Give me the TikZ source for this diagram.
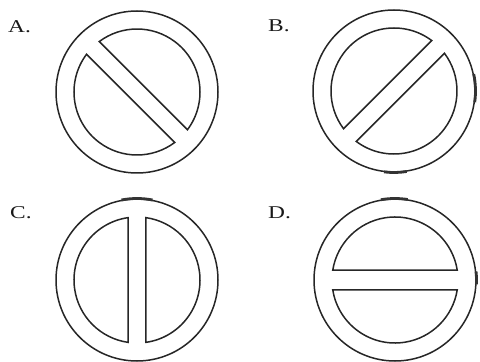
\documentclass[tikz,border=0pt]{standalone}
\usepackage{fontspec}
\setmainfont{Liberation Serif}
\tikzset{
  ring/.style={draw=black!85, line width=1.5pt},
  blob/.style={draw=black!80, line width=2.8pt},
  lbl/.style={anchor=base west, inner sep=0pt, font=\fontsize{18}{18}\selectfont, text=black!90}
}
\newcommand{\ringsign}[3]{%
  \draw[ring] (#1) circle[radius=81];
  \pgfmathsetmacro{\halfang}{acos(#3/63)}
  \foreach \n in {#2, #2+180}{
    \draw[ring] ([shift={(\n-\halfang:63)}]#1) arc[start angle=\n-\halfang, end angle=\n+\halfang, radius=63] -- cycle;
  }
}
\begin{document}
\begin{tikzpicture}[x=1pt,y=1pt]
\useasboundingbox (0,0) rectangle (480,362);
\coordinate (cA) at (137,270);
\coordinate (cB) at (394,271);
\coordinate (cC) at (137,82);
\coordinate (cD) at (395,82);
\ringsign{cA}{45}{9}
\ringsign{cB}{135}{9}
\ringsign{cC}{0}{9}
\ringsign{cD}{90}{10}
% thick artefacts on outer rings
\draw[blob] ([shift={(263:81.5)}]cB) arc[start angle=263, end angle=279, radius=81.5];
\draw[blob] ([shift={(-8:81.5)}]cB) arc[start angle=-8, end angle=12, radius=81.5];
\draw[blob] ([shift={(79:81.5)}]cC) arc[start angle=79, end angle=101, radius=81.5];
\draw[blob] ([shift={(81:81.5)}]cD) arc[start angle=81, end angle=100, radius=81.5];
\draw[blob] ([shift={(-3:81.5)}]cD) arc[start angle=-3, end angle=6, radius=81.5];
\node[lbl] (lA) at (8,329) {\scalebox{1.3}[1]{A.}};
\node[lbl] (lB) at (268,330) {\scalebox{1.3}[1]{B.}};
\node[lbl] (lC) at (10,143) {\scalebox{1.3}[1]{C.}};
\node[lbl] (lD) at (268,143) {\scalebox{1.3}[1]{D.}};
\end{tikzpicture}
\end{document}
